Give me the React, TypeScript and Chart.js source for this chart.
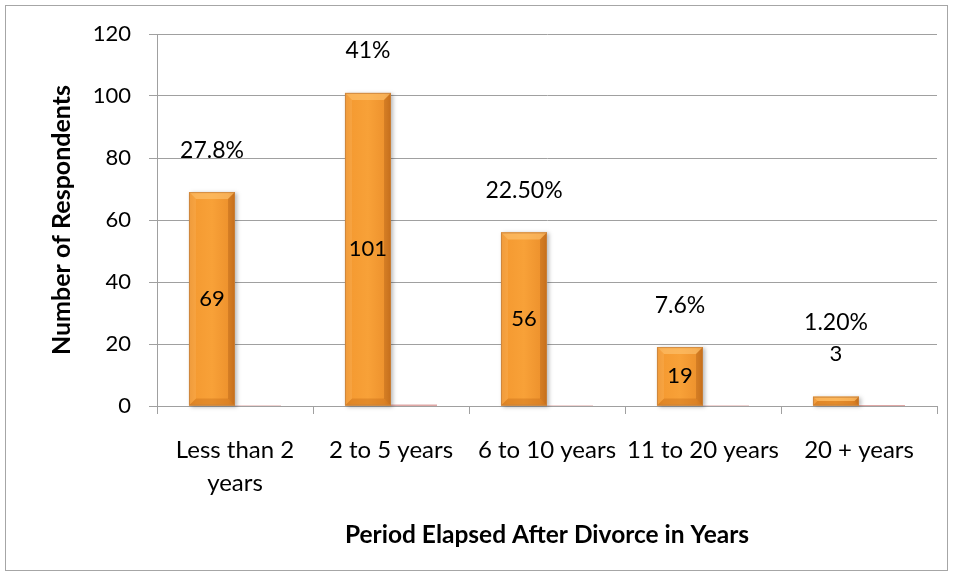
import React, { useEffect, useRef } from "react";
import { Chart, registerables } from "chart.js";

Chart.register(...registerables);

const categories: (string | string[])[] = [
  ["Less than 2", "years"],
  "2 to 5 years",
  "6 to 10 years",
  "11 to 20 years",
  "20 + years",
];
const respondents = [69, 101, 56, 19, 3];
const shares = [0.278, 0.41, 0.225, 0.076, 0.012];
const shareLabels = ["27.8%", "41%", "22.50%", "7.6%", "1.20%"];
const yMin = 0;
const yMax = 120;
const yStep = 20;

const FONT = "Lato, 'Open Sans', sans-serif";

const barStyle = {
  id: "barStyle",
  afterDatasetDraw(chart: any, args: any) {
    if (args.index !== 0) return;
    const ctx = chart.ctx as CanvasRenderingContext2D;
    args.meta.data.forEach((el: any) => {
      const { x, y, base, width } = el.getProps(["x", "y", "base", "width"], true);
      const l = x - width / 2;
      const r = x + width / 2;
      const t = y;
      const b = base;
      const h = b - t;
      ctx.save();
      ctx.shadowColor = "rgba(0,0,0,0.28)";
      ctx.shadowBlur = 4;
      ctx.shadowOffsetX = 2;
      ctx.shadowOffsetY = 1;
      const g = ctx.createLinearGradient(l, 0, r, 0);
      g.addColorStop(0, "#EA8F2A");
      g.addColorStop(0.15, "#F59B32");
      g.addColorStop(0.5, "#F8A138");
      g.addColorStop(0.85, "#EE932E");
      g.addColorStop(1, "#D47A20");
      ctx.fillStyle = g;
      ctx.fillRect(l, t, width, h);
      ctx.restore();
      const bev = Math.min(7, h / 2);
      ctx.save();
      ctx.fillStyle = "rgba(255,200,120,0.55)";
      ctx.beginPath();
      ctx.moveTo(l, t);
      ctx.lineTo(r, t);
      ctx.lineTo(r - bev, t + bev);
      ctx.lineTo(l + bev, t + bev);
      ctx.closePath();
      ctx.fill();
      ctx.fillStyle = "rgba(190,100,20,0.35)";
      ctx.beginPath();
      ctx.moveTo(l, b);
      ctx.lineTo(r, b);
      ctx.lineTo(r - bev, b - bev);
      ctx.lineTo(l + bev, b - bev);
      ctx.closePath();
      ctx.fill();
      ctx.fillStyle = "rgba(170,90,20,0.35)";
      ctx.beginPath();
      ctx.moveTo(r, t);
      ctx.lineTo(r, b);
      ctx.lineTo(r - bev, b - bev);
      ctx.lineTo(r - bev, t + bev);
      ctx.closePath();
      ctx.fill();
      ctx.fillStyle = "rgba(255,190,110,0.25)";
      ctx.beginPath();
      ctx.moveTo(l, t);
      ctx.lineTo(l, b);
      ctx.lineTo(l + bev, b - bev);
      ctx.lineTo(l + bev, t + bev);
      ctx.closePath();
      ctx.fill();
      ctx.strokeStyle = "rgba(200,130,60,0.8)";
      ctx.lineWidth = 1;
      ctx.strokeRect(l + 0.5, t + 0.5, width - 1, h - 1);
      ctx.restore();
    });
  },
};

const labelPlugin = {
  id: "labelPlugin",
  afterDatasetsDraw(chart: any) {
    const ctx = chart.ctx as CanvasRenderingContext2D;
    const meta = chart.getDatasetMeta(0);
    ctx.save();
    ctx.fillStyle = "#000";
    ctx.textAlign = "center";
    ctx.textBaseline = "middle";
    meta.data.forEach((el: any, i: number) => {
      const { x, y, base } = el.getProps(["x", "y", "base"], true);
      const h = base - y;
      const countY = h > 30 ? (y + base) / 2 : y - 43;
      ctx.font = `22px ${FONT}`;
      ctx.fillText(String(respondents[i]), x, countY);
      const shareY = Math.min(y - 42, countY - 31);
      ctx.font = `23px ${FONT}`;
      ctx.fillText(shareLabels[i], x, shareY);
    });
    ctx.restore();
  },
};

const frame = {
  id: "frame",
  afterDraw(chart: any) {
    const ctx = chart.ctx as CanvasRenderingContext2D;
    ctx.save();
    ctx.strokeStyle = "#A6A6A6";
    ctx.lineWidth = 1;
    ctx.strokeRect(5.5, 5.5, chart.width - 12, chart.height - 12);
    ctx.restore();
  },
};

export default function App() {
  const ref = useRef<HTMLCanvasElement | null>(null);
  useEffect(() => {
    document.body.style.margin = "0";
    const canvas = ref.current;
    if (!canvas) return;
    const chart = new Chart(canvas, {
      type: "bar",
      data: {
        labels: categories,
        datasets: [
          {
            label: "Number of Respondents",
            data: respondents,
            backgroundColor: "#F39B33",
            borderWidth: 0,
            categoryPercentage: 0.59,
            barPercentage: 1,
          },
          {
            label: "Percentage",
            data: shares,
            backgroundColor: "#C0504D",
            borderWidth: 0,
            categoryPercentage: 0.59,
            barPercentage: 1,
          },
        ],
      },
      options: {
        animation: false,
        responsive: false,
        maintainAspectRatio: false,
        layout: { padding: { left: 10, top: 34, right: 17, bottom: 10 } },
        plugins: {
          legend: { display: false },
          tooltip: { enabled: false },
        },
        scales: {
          x: {
            offset: true,
            grid: {
              display: true,
              drawOnChartArea: false,
              drawTicks: true,
              tickLength: 8,
              color: "#A0A0A0",
              offset: true,
            },
            border: { display: true, color: "#A0A0A0", width: 1 },
            ticks: {
              color: "#000",
              font: { family: FONT, size: 24, lineHeight: 1.375 },
              padding: 20,
              maxRotation: 0,
              autoSkip: false,
            },
            title: {
              display: true,
              text: "Period Elapsed After Divorce in Years",
              color: "#000",
              font: { family: FONT, size: 24.5, weight: "bold" },
              padding: { top: 0, bottom: 17 },
            },
            afterFit(scale: any) {
              scale.height = 161;
            },
          },
          y: {
            min: yMin,
            max: yMax,
            ticks: {
              stepSize: yStep,
              color: "#000",
              font: { family: FONT, size: 22 },
              padding: 18,
            },
            grid: {
              color: "#A0A0A0",
              tickLength: 8,
              drawTicks: true,
            },
            border: { display: true, color: "#A0A0A0", width: 1 },
            title: {
              display: true,
              text: "Number of Respondents",
              color: "#000",
              font: { family: FONT, size: 25, weight: "bold" },
              padding: { top: 37, bottom: 0 },
            },
            afterFit(scale: any) {
              scale.width = 147;
            },
          },
        },
      },
      plugins: [barStyle, labelPlugin, frame],
    });
    return () => chart.destroy();
  }, []);
  return (
    <div style={{ width: 954, height: 577, background: "#fff" }}>
      <canvas ref={ref} width={954} height={577} style={{ display: "block" }} />
    </div>
  );
}
